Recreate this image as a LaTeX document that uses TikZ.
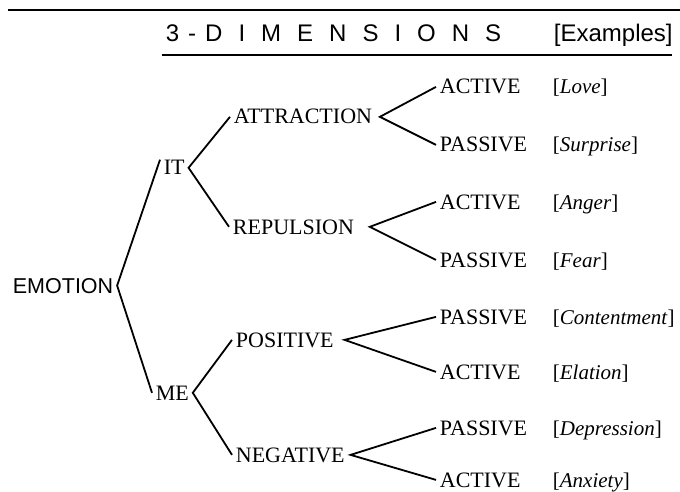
\documentclass[tikz,border=0pt]{standalone}
\usepackage{fontspec}
\setmainfont{Liberation Serif}
\setsansfont{Liberation Sans}
\newcommand\ltrgap{\hspace{16pt}}
\begin{document}
\begin{tikzpicture}
    [x=1pt,y=-1pt,line width=1.8pt,
     every node/.style={anchor=base west,inner xsep=3pt,inner ysep=0pt,font=\fontsize{22}{24}\selectfont}]
    \useasboundingbox (0,0) rectangle (680,492);
    \draw[line width=2pt] (8,10) -- (680,10);
    \draw[line width=2pt] (162,55) -- (672,55);
    \node (title) at (162,42) {\sffamily\fontsize{24}{28}\selectfont 3\hspace{9pt}-\hspace{9pt}D\ltrgap I\ltrgap M\ltrgap E\ltrgap N\ltrgap S\ltrgap I\ltrgap O\ltrgap N\ltrgap S};
    \node (examples) at (550,42) {\sffamily\fontsize{24}{28}\selectfont [Examples]};
    \node (emotion) at (9,293) {\sffamily\fontsize{21.5}{24}\selectfont EMOTION};
    \node (it) at (160,175) {IT};
    \node (me) at (152,400) {ME};
    \node (attraction) at (230,124) {ATTRACTION};
    \node (repulsion) at (229,234) {REPULSION};
    \node (positive) at (232,347) {POSITIVE};
    \node (negative) at (232,462) {NEGATIVE};
    \node (att-act) at (436,94) {ACTIVE};
    \node (att-pas) at (436,152) {PASSIVE};
    \node (rep-act) at (436,209) {ACTIVE};
    \node (rep-pas) at (436,267) {PASSIVE};
    \node (pos-pas) at (436,324) {PASSIVE};
    \node (pos-act) at (436,379) {ACTIVE};
    \node (neg-pas) at (436,435) {PASSIVE};
    \node (neg-act) at (436,487) {ACTIVE};
    \node[font=\fontsize{21}{24}\selectfont] (love) at (549,94) {[\textit{Love}]};
    \node[font=\fontsize{21}{24}\selectfont] (surprise) at (549,152) {[\textit{Surprise}]};
    \node[font=\fontsize{21}{24}\selectfont] (anger) at (549,209) {[\textit{Anger}]};
    \node[font=\fontsize{21}{24}\selectfont] (fear) at (549,267) {[\textit{Fear}]};
    \node[font=\fontsize{21}{24}\selectfont] (contentment) at (549,324) {[\textit{Contentment}]};
    \node[font=\fontsize{21}{24}\selectfont] (elation) at (549,379) {[\textit{Elation}]};
    \node[font=\fontsize{21}{24}\selectfont] (depression) at (549,435) {[\textit{Depression}]};
    \node[font=\fontsize{21}{24}\selectfont] (anxiety) at (549,487) {[\textit{Anxiety}]};
    \draw (it.north west) -- (emotion.east) -- (me.west);
    \draw (attraction.west) -- (it.east) -- (repulsion.west);
    \draw (positive.west) -- (me.east) -- (negative.west);
    \draw (att-act.west) -- ([xshift=4pt]attraction.east) -- (att-pas.west);
    \draw (rep-act.west) -- ([xshift=12pt]repulsion.east) -- (rep-pas.west);
    \draw (pos-pas.west) -- ([xshift=7pt]positive.east) -- (pos-act.west);
    \draw (neg-pas.west) -- ([xshift=2pt]negative.east) -- (neg-act.west);
  \end{tikzpicture}
\end{document}
